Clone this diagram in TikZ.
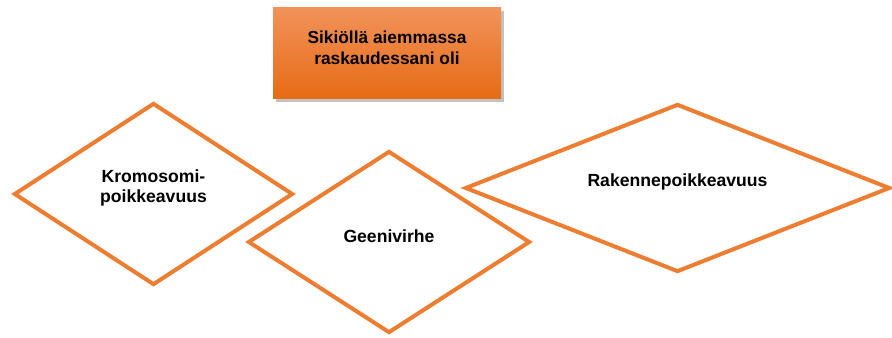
\documentclass[tikz,border=0pt]{standalone}
\usepackage{fontspec}
\setmainfont{Liberation Sans}
\usetikzlibrary{shapes.geometric,shadows}
\definecolor{accent}{HTML}{ED7D31}
\definecolor{boxtop}{HTML}{F2925A}
\definecolor{boxbot}{HTML}{E66B14}
\begin{document}
\begin{tikzpicture}[x=0.75pt,y=-0.75pt,
  header/.style={rectangle, top color=boxtop, bottom color=boxbot, draw=none,
    minimum width=171pt, minimum height=68.25pt, inner sep=0pt,
    drop shadow={shadow xshift=2pt, shadow yshift=-2pt, opacity=0.4, fill=black!60}},
  choice/.style={diamond, draw=accent, line width=3pt, fill=white, inner sep=0pt},
  caption/.style={align=center, inner sep=0pt, font=\bfseries\fontsize{13.2}{15.5}\selectfont}]
  \useasboundingbox (0,0) rectangle (892,338);

  % heading box and its text
  \node[header] (head) at (387,53.5) {};
  \node[caption, font=\bfseries\fontsize{13}{15.5}\selectfont] (ht) at ([yshift=4.5pt]head.center)
    {Sikiöllä aiemmassa\\raskaudessani oli};

  % three categories
  \node[choice, minimum width=209.25pt, minimum height=136.5pt] (d1) at (153.5,194) {};
  \node[choice, minimum width=211.5pt, minimum height=136.5pt] (d2) at (389,242) {};
  \node[choice, minimum width=318.75pt, minimum height=126pt] (d3) at (677.5,188) {};

  \node[caption] (t1) at ([yshift=4.5pt]d1.center) {Kromosomi-\\poikkeavuus};
  \node[caption] (t2) at ([yshift=4pt]d2.center) {Geenivirhe};
  \node[caption] (t3) at ([yshift=4.5pt]d3.center) {Rakennepoikkeavuus};
\end{tikzpicture}
\end{document}
